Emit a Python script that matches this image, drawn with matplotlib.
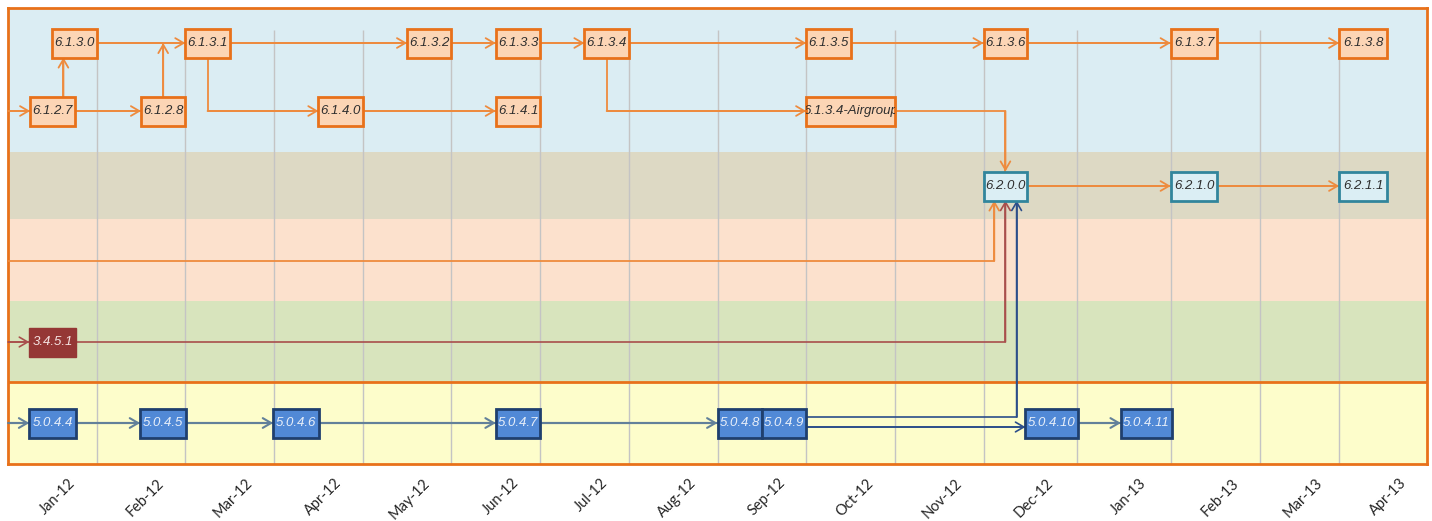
import numpy as np
import matplotlib
matplotlib.use("Agg")
import matplotlib.pyplot as plt
from matplotlib.patches import Rectangle
from matplotlib.patches import ArrowStyle
from matplotlib.transforms import ScaledTranslation
from matplotlib import font_manager

# ------------------------------------------------------------------ data
months = ["Jan-12", "Feb-12", "Mar-12", "Apr-12", "May-12", "Jun-12", "Jul-12",
          "Aug-12", "Sep-12", "Oct-12", "Nov-12", "Dec-12", "Jan-13", "Feb-13",
          "Mar-13", "Apr-13"]
# month boundaries as placed on the drawn timeline (in month units)
month_edges = [0, 1, 2, 3, 4, 5, 6, 7, 8, 9, 10, 11, 12.05, 13.11, 14.12, 15.01, 16]

node_labels = ["6.1.2.7", "6.1.3.0", "6.1.2.8", "6.1.3.1", "6.1.4.0", "6.1.3.2",
               "6.1.3.3", "6.1.4.1", "6.1.3.4", "6.1.3.5", "6.1.3.4-Airgroup",
               "6.1.3.6", "6.1.3.7", "6.1.3.8",
               "6.2.0.0", "6.2.1.0", "6.2.1.1",
               "3.4.5.1",
               "5.0.4.4", "5.0.4.5", "5.0.4.6", "5.0.4.7", "5.0.4.8", "5.0.4.9",
               "5.0.4.10", "5.0.4.11"]
node_start = [0.25, 0.5, 1.5, 2.0, 3.5, 4.5,
              5.5, 5.5, 6.5, 9.0, 9.0,
              11.0, 13.0, 15.0,
              11.0, 13.0, 15.0,
              0.24,
              0.24, 1.49, 2.99, 5.5, 8.0, 8.5,
              11.45, 12.47]
node_length = [0.5, 0.5, 0.5, 0.5, 0.5, 0.5,
               0.5, 0.5, 0.5, 0.5, 1.0,
               0.47, 0.52, 0.55,
               0.47, 0.52, 0.55,
               0.53,
               0.53, 0.52, 0.52, 0.5, 0.5, 0.5,
               0.56, 0.54]
node_lane = [1, 0, 1, 0, 1, 0,
             0, 1, 0, 0, 1,
             0, 0, 0,
             2, 2, 2,
             4,
             5, 5, 5, 5, 5, 5,
             5, 5]
node_kind = ["orange"] * 14 + ["teal"] * 3 + ["red"] + ["blue"] * 8

# dependencies: source (None = comes in from the left edge), target, routing
link_src = [None, "6.1.2.7", "6.1.2.7", "6.1.3.0", "6.1.2.8", "6.1.3.1", "6.1.3.1",
            "6.1.3.2", "6.1.4.0", "6.1.3.3", "6.1.3.4", "6.1.3.4", "6.1.3.5",
            "6.1.3.4-Airgroup", "6.1.3.6", "6.1.3.7", "6.2.0.0", "6.2.1.0",
            None, None, "3.4.5.1",
            None, "5.0.4.4", "5.0.4.5", "5.0.4.6", "5.0.4.7", "5.0.4.9", "5.0.4.9",
            "5.0.4.10"]
link_src_lane = [1, 1, 1, 0, 1, 0, 0,
                 0, 1, 0, 0, 0, 0,
                 1, 0, 0, 2, 2,
                 3, 4, 4,
                 5, 5, 5, 5, 5, 5, 5,
                 5]
link_dst = ["6.1.2.7", "6.1.3.0", "6.1.2.8", "6.1.3.1", "6.1.3.1", "6.1.3.2", "6.1.4.0",
            "6.1.3.3", "6.1.4.1", "6.1.3.4", "6.1.3.5", "6.1.3.4-Airgroup", "6.1.3.6",
            "6.2.0.0", "6.1.3.7", "6.1.3.8", "6.2.1.0", "6.2.1.1",
            "6.2.0.0", "3.4.5.1", "6.2.0.0",
            "5.0.4.4", "5.0.4.5", "5.0.4.6", "5.0.4.7", "5.0.4.8", "6.2.0.0", "5.0.4.10",
            "5.0.4.11"]
link_route = ["h", "up", "h", "h", "up_join", "h", "down_right",
              "h", "h", "h", "h", "down_right", "h",
              "right_down", "h", "h", "h", "h",
              "right_up", "h", "right_up",
              "h", "h", "h", "h", "h", "right_up", "h",
              "h"]
link_kind = ["orange"] * 19 + ["red", "red"] + ["steel"] * 5 + ["navy", "navy"] + ["steel"]

# ------------------------------------------------------------------ layout / style
W, H = 1432, 521
LANE_Y = [43, 111, 186, 261, 342, 423]          # lane centre lines (pixels from top)
BANDS = [(9, 152, "#DBEDF3"), (152, 219, "#DDD9C4"), (219, 301, "#FCE1CD"),
         (301, 382, "#D8E4BD"), (382, 464, "#FDFDCB")]
BOX_H = 29
PORTS = {(None, "6.2.0.0"): (-0.12, 0), ("5.0.4.9", "6.2.0.0"): (0.12, -6),
         ("5.0.4.9", "5.0.4.10"): (0.0, 4)}
NODE_STYLE = {
    "orange": dict(fc="#FCD5B5", ec="#E8711A", tc="#2E2E2E", lw=2.0),
    "teal":   dict(fc="#DBEEF4", ec="#31859C", tc="#2E2E2E", lw=2.0),
    "red":    dict(fc="#953735", ec="#953735", tc="#F4E2E1", lw=1.0),
    "blue":   dict(fc="#5189D6", ec="#1F3F6E", tc="#E8EFF9", lw=2.0),
}
LINK_STYLE = {"orange": ("#EE8B3E", 1.3), "red": ("#A94F4C", 1.2),
              "steel": ("#62809A", 1.5), "navy": ("#2C4E8A", 1.2)}
BORDER = "#E8711A"

avail = {f.name for f in font_manager.fontManager.ttflist}
if "Liberation Sans Narrow" in avail:
    box_font, box_size = ["Liberation Sans Narrow", "Liberation Sans"], 11
else:
    box_font, box_size = ["Liberation Sans", "DejaVu Sans"], 9.5
label_font = ["Lato", "DejaVu Sans"]

fig = plt.figure(figsize=(W / 100, H / 100), dpi=100)
ax = fig.add_axes([8 / W, 1 - 464 / H, (1427 - 8) / W, (464 - 8) / H])

idx = np.arange(len(month_edges), dtype=float)
edges = np.asarray(month_edges, dtype=float)


def fwd(x):
    x = np.asarray(x, dtype=float)
    return np.interp(x, idx, edges)


def inv(y):
    y = np.asarray(y, dtype=float)
    return np.interp(y, edges, idx)


ax.set_xscale("function", functions=(fwd, inv))
ax.set_xlim(0, len(months))
ax.set_ylim(464, 8)

# background bands
for top, bot, col in BANDS:
    ax.axhspan(top, bot, color=col, lw=0, zorder=0)

# month grid lines
ax.vlines(np.arange(1, len(months)), 30, 464, color="#C4C4C4", lw=1.0, zorder=1)

# separator between programme blocks
ax.axhline(382, color=BORDER, lw=2.0, zorder=2)
for s in ax.spines.values():
    s.set_color(BORDER)
    s.set_linewidth(2.0)

# geometry of each node
geom = {}
for lab, st, ln, lane in zip(node_labels, node_start, node_length, node_lane):
    geom[lab] = (st, st + ln, LANE_Y[lane])

arrow = ArrowStyle("->", head_length=0.6, head_width=0.35)


def draw_path(pts, color, lw):
    xs, ys = zip(*pts)
    ax.plot(xs, ys, color=color, lw=lw, solid_capstyle="butt", zorder=3)
    ax.annotate("", xy=pts[-1], xytext=pts[-2],
                arrowprops=dict(arrowstyle=arrow, color=color, lw=lw,
                                shrinkA=0, shrinkB=0, mutation_scale=10),
                zorder=4)


for src, slane, dst, route, kind in zip(link_src, link_src_lane, link_dst, link_route, link_kind):
    dx, dy = PORTS.get((src, dst), (0.0, 0))
    if src is None:
        sx0, sx1, sy = 0.0, 0.0, LANE_Y[slane]
    else:
        sx0, sx1, sy = geom[src]
    tx0, tx1, ty = geom[dst]
    h2 = BOX_H / 2
    if route == "h":
        pts = [(sx1, ty + dy), (tx0, ty + dy)]
    elif route == "up":
        x = (max(sx0, tx0) + min(sx1, tx1)) / 2
        pts = [(x, sy - h2), (x, ty + h2)]
    elif route == "up_join":
        x = (sx0 + sx1) / 2
        pts = [(x, sy - h2), (x, ty)]
    elif route == "down_right":
        x = (sx0 + sx1) / 2
        pts = [(x, sy + h2), (x, ty), (tx0, ty)]
    elif route == "right_down":
        x = (tx0 + tx1) / 2
        pts = [(sx1, sy), (x, sy), (x, ty - h2)]
    else:  # right_up
        x = (tx0 + tx1) / 2 + dx
        pts = [(sx1, sy + dy), (x, sy + dy), (x, ty + h2)]
    col, lw = LINK_STYLE[kind]
    draw_path(pts, col, lw)

# nodes
for lab, kind in zip(node_labels, node_kind):
    x0, x1, yc = geom[lab]
    st = NODE_STYLE[kind]
    rect = Rectangle((x0, yc - BOX_H / 2), x1 - x0, BOX_H, facecolor=st["fc"],
                     edgecolor=st["ec"], lw=st["lw"], zorder=5)
    ax.add_patch(rect)
    t = ax.text((x0 + x1) / 2, yc, lab, ha="center", va="center", style="italic",
                family=box_font, fontsize=box_size, color=st["tc"], zorder=6, clip_on=True)
    t.set_clip_path(rect)

# month labels
ax.set_yticks([])
ax.set_xticks(np.arange(len(months)) + 0.5)
ax.set_xticklabels(months, rotation=45, ha="right", va="top", rotation_mode="anchor",
                   family=label_font, fontsize=10.5, color="#262626")
ax.tick_params(axis="x", length=0, pad=8.6)
off = ScaledTranslation(16 / 100, 0, fig.dpi_scale_trans)
for lbl in ax.get_xticklabels():
    lbl.set_transform(lbl.get_transform() + off)

fig.savefig("out.png", dpi=100)
